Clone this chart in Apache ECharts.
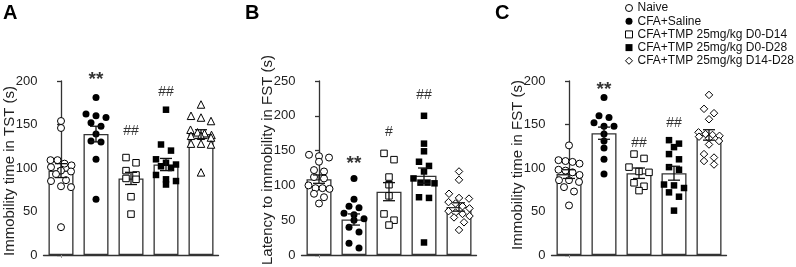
<!DOCTYPE html>
<html>
<head>
<meta charset="utf-8">
<script src="https://cdn.jsdelivr.net/npm/echarts@6/dist/echarts.min.js"></script>
<style>
html,body{margin:0;padding:0;background:#fff;}
#main{width:796px;height:267px;}
</style>
</head>
<body>
<div id="main"></div>
<script>
var groups = ['Naive', 'CFA+Saline', 'CFA+TMP 25mg/kg D0-D14', 'CFA+TMP 25mg/kg D0-D28', 'CFA+TMP 25mg/kg D14-D28'];

// A: immobility time in TST (s)
var tstPoints = [
  [154, 146, 109, 105, 109, 101, 97, 103, 93, 96, 86, 85, 78, 79, 32],
  [181, 160, 162, 158, 152, 148, 139, 131, 130, 110, 64],
  [112, 106, 97, 92, 88, 87, 67, 47],
  [167, 127, 120, 110, 106, 104, 102, 100, 92, 87, 85, 81],
  [173, 160, 158, 154, 144, 141, 140, 138, 137, 137, 135, 128, 128, 127, 95]
];
var tstMean = [97, 139, 88, 104, 139];
var tstSem = [8, 9, 7, 7, 5];
var tstSig = ['', '**', '##', '##', ''];
var tstSigAt = [0, 206, 142, 187, 0];

// B: latency to immobility in FST (s)
var latPoints = [
  [144, 142, 140, 134, 122, 120, 112, 110, 100, 96, 96, 95, 88, 83, 74],
  [110, 80, 70, 68, 60, 58, 52, 50, 40, 33, 17, 10],
  [146, 137, 112, 101, 85, 59, 50, 43],
  [200, 160, 149, 134, 128, 120, 110, 104, 104, 103, 83, 82, 18],
  [120, 108, 88, 82, 81, 76, 74, 70, 67, 63, 61, 59, 56, 54, 47, 36]
];
var latMean = [109, 51, 91, 114, 69];
var latSem = [6, 8, 13, 11, 6];
var latSig = ['', '**', '#', '##', ''];
var latSigAt = [0, 137, 176, 230, 0];

// C: immobility time in FST (s)
var fstPoints = [
  [126, 109, 108, 107, 105, 98, 97, 95, 92, 86, 86, 84, 78, 73, 57],
  [181, 160, 158, 152, 148, 148, 139, 131, 123, 110, 93],
  [116, 111, 101, 96, 95, 83, 79, 74],
  [132, 128, 124, 116, 110, 101, 98, 81, 80, 77, 72, 67, 51],
  [184, 168, 163, 156, 141, 139, 138, 137, 136, 134, 131, 127, 116, 112, 108, 104]
];
var fstMean = [93, 140, 94, 94, 138];
var fstSem = [5, 7, 6, 8, 6];
var fstSig = ['', '**', '##', '##', ''];
var fstSigAt = [0, 194, 129, 152, 0];

var font = 'Liberation Sans, Arial, sans-serif';
var ink = '#222';
var fills = ['#fff', '#000', '#fff', '#000', '#fff'];
var legendIcons = ['circle', 'circle', 'rect', 'rect', 'diamond'];

var panels = [
  {letter: 'A', left: 43.5, max: 200, name: 'Immobility time in TST (s)', pts: tstPoints, mean: tstMean, sem: tstSem, sig: tstSig, sigAt: tstSigAt,
   symbols: ['circle', 'circle', 'rect', 'rect', 'triangle'], titleX: 3, namePad: [0, 6, 0, 0]},
  {letter: 'B', left: 301.5, max: 250, name: 'Latency to immobility in FST (s)', pts: latPoints, mean: latMean, sem: latSem, sig: latSig, sigAt: latSigAt,
   symbols: ['circle', 'circle', 'rect', 'rect', 'diamond'], titleX: 245, namePad: [0, 0, 0, 16]},
  {letter: 'C', left: 551.5, max: 200, name: 'Immobility time in FST (s)', pts: fstPoints, mean: fstMean, sem: fstSem, sig: fstSig, sigAt: fstSigAt,
   symbols: ['circle', 'circle', 'rect', 'rect', 'diamond'], titleX: 495, namePad: [0, 0, 0, 6]}
];

var plotH = 174, band = 35;

// Prism-like scatter layout: points of similar value share a row, centred in the bar
function swarm(vals, pxPerUnit) {
  var idx = vals.map(function (v, i) { return i; }).sort(function (a, b) { return vals[b] - vals[a]; });
  var rows = [], cur = null;
  idx.forEach(function (i) {
    if (cur && (vals[cur[0]] - vals[i]) * pxPerUnit < 6.5 && cur.length < 4) cur.push(i);
    else { cur = [i]; rows.push(cur); }
  });
  var out = [];
  rows.forEach(function (r) {
    var step = (r.length > 3 ? 7 : 10) / band;
    r.forEach(function (i, j) { out.push([(j - (r.length - 1) / 2) * step, vals[i]]); });
  });
  return out;
}

var grids = [], xAxes = [], yAxes = [], series = [], titles = [];

panels.forEach(function (p, k) {
  grids.push({left: p.left, top: 81, width: band * 5, height: plotH, outerBoundsMode: 'none', containLabel: false});
  xAxes.push({
    gridIndex: k, type: 'category', data: groups, position: 'bottom',
    axisLine: {lineStyle: {color: '#333', width: 1.3}},
    axisTick: {show: true, alignWithLabel: true, length: 3, lineStyle: {color: '#999', width: 1}},
    axisLabel: {show: false}
  });
  xAxes.push({gridIndex: k, type: 'value', min: -0.5, max: 4.5, show: false});
  yAxes.push({
    gridIndex: k, type: 'value', min: 0, max: p.max, interval: 50,
    name: p.name, nameLocation: 'middle', nameGap: 26, nameRotate: 90, nameMoveOverlap: false,
    nameTextStyle: {fontSize: 15, color: ink, fontFamily: font, padding: p.namePad},
    axisLine: {show: true, lineStyle: {color: '#333', width: 1.3}},
    axisTick: {show: true, length: 4, lineStyle: {color: '#333', width: 1.3}},
    axisLabel: {fontSize: 13, color: ink, margin: 6, fontFamily: font},
    splitLine: {show: false}
  });
  titles.push({text: p.letter, left: p.titleX, top: 3, padding: 0,
    textStyle: {fontSize: 20, fontWeight: 'bold', color: '#000', fontFamily: font}});

  series.push({
    type: 'bar', xAxisIndex: 2 * k, yAxisIndex: k, data: p.mean, barWidth: 25, silent: true, z: 1,
    itemStyle: {color: '#fff', borderColor: '#333', borderWidth: 1.3}
  });

  var ppu = plotH / p.max;
  p.pts.forEach(function (vals, g) {
    series.push({
      name: groups[g], type: 'scatter', xAxisIndex: 2 * k + 1, yAxisIndex: k, z: 2, silent: true,
      symbol: p.symbols[g], symbolSize: p.symbols[g] === 'rect' ? 6.5 : (p.symbols[g] === 'circle' ? 7 : 7.5),
      itemStyle: {color: fills[g], borderColor: '#000', borderWidth: fills[g] === '#000' ? 0 : 1, opacity: 1},
      data: swarm(vals, ppu).map(function (d) { return [g + d[0], d[1]]; })
    });
  });

  series.push({
    type: 'custom', xAxisIndex: 2 * k + 1, yAxisIndex: k, z: 3, silent: true,
    data: p.mean.map(function (m, g) { return [g, m, p.sem[g]]; }),
    renderItem: function (params, api) {
      var x = api.value(0), m = api.value(1), s = api.value(2);
      var t = api.coord([x, m + s]), b = api.coord([x, m - s]);
      var hw = 6, st = {stroke: '#111', lineWidth: 1.3};
      return {type: 'group', children: [
        {type: 'line', shape: {x1: t[0], y1: t[1], x2: b[0], y2: b[1]}, style: st},
        {type: 'line', shape: {x1: t[0] - hw, y1: t[1], x2: t[0] + hw, y2: t[1]}, style: st},
        {type: 'line', shape: {x1: b[0] - hw, y1: b[1], x2: b[0] + hw, y2: b[1]}, style: st}
      ]};
    }
  });

  var sigData = [];
  p.sig.forEach(function (s, g) { if (s) sigData.push({value: [g, p.sigAt[g]], mark: s}); });
  series.push({
    type: 'scatter', xAxisIndex: 2 * k + 1, yAxisIndex: k, z: 4, silent: true, symbolSize: 1, clip: false,
    itemStyle: {color: 'rgba(0,0,0,0)'},
    label: {show: true, position: 'inside', color: '#000', fontFamily: font,
      formatter: function (d) { return d.data.mark; }},
    data: sigData.map(function (d) {
      var star = d.mark.indexOf('*') >= 0;
      return {value: d.value, mark: d.mark,
        label: {fontSize: star ? 19 : 14, fontWeight: star ? 'bold' : 'normal', offset: [0, star ? 4 : 0]}};
    })
  });
});

var chart = echarts.init(document.getElementById('main'));
chart.setOption({
  animation: false,
  backgroundColor: '#fff',
  title: titles,
  grid: grids,
  xAxis: xAxes,
  yAxis: yAxes,
  legend: {
    orient: 'vertical', left: 620, top: -3, itemWidth: 7, itemHeight: 7, itemGap: 1.2,
    selectedMode: false,
    textStyle: {fontSize: 12, color: '#111', fontFamily: font},
    data: groups.map(function (g, i) {
      return {name: g, icon: legendIcons[i],
        itemStyle: {color: fills[i], borderColor: '#000', borderWidth: fills[i] === '#000' ? 0 : 1}};
    })
  },
  series: series
});
</script>
</body>
</html>
